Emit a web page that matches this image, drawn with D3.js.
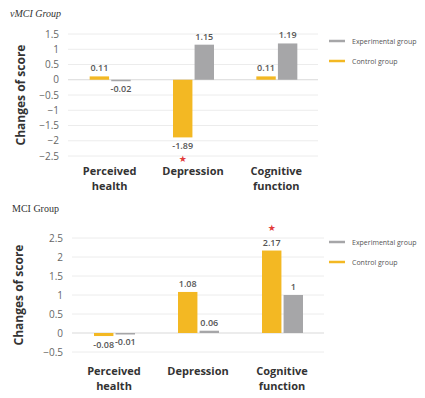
<!DOCTYPE html>
<html>
<head>
<meta charset="utf-8">
<script src="https://cdn.jsdelivr.net/npm/d3@7"></script>
<style>
  body { margin: 0; background: #fff; }
  text { font-family: "Open Sans", sans-serif; }
</style>
</head>
<body>
<svg id="chart" width="425" height="398"></svg>
<script>
// data
var categories = [["Perceived", "health"], ["Depression"], ["Cognitive", "function"]];
var seriesNames = ["Control group", "Experimental group"];
var vmciControl = [0.11, -1.89, 0.11];
var vmciExperimental = [-0.02, 1.15, 1.19];
var mciControl = [-0.08, 1.08, 2.17];
var mciExperimental = [-0.01, 0.06, 1];
var vmciTicks = [1.5, 1, 0.5, 0, -0.5, -1, -1.5, -2, -2.5];
var mciTicks = [2.5, 2, 1.5, 1, 0.5, 0, -0.5];

var colors = {"Control group": "#f3b823", "Experimental group": "#a6a6a8"};

var svg = d3.select("#chart");
svg.append("rect").attr("width", 425).attr("height", 398).attr("fill", "#fff");

function drawPanel(opt) {
  var g = svg.append("g");

  // title
  g.append("text")
    .attr("x", opt.titleX).attr("y", opt.titleY)
    .style("font-family", "'Liberation Serif', serif")
    .style("font-style", opt.italic ? "italic" : "normal")
    .style("font-size", "10px")
    .attr("fill", "#333")
    .text(opt.title);

  var y = d3.scaleLinear()
    .domain([opt.ticks[opt.ticks.length - 1], opt.ticks[0]])
    .range([opt.bottom, opt.top]);

  var x = d3.scaleBand()
    .domain(d3.range(categories.length))
    .range([opt.left, opt.right]);

  var xSub = d3.scaleBand()
    .domain(seriesNames)
    .range([x.bandwidth() / 2 - 20, x.bandwidth() / 2 + 21])
    .paddingInner(0.1);

  // grid lines
  g.append("g").selectAll("line")
    .data(opt.ticks)
    .enter().append("line")
      .attr("x1", opt.left).attr("x2", opt.right)
      .attr("y1", function(d) { return y(d); })
      .attr("y2", function(d) { return y(d); })
      .attr("stroke", function(d) { return d === 0 ? "#d9d9d9" : "#ececec"; })
      .attr("stroke-width", 1);

  // y axis labels
  var yAxis = d3.axisLeft(y).tickValues(opt.ticks).tickSize(0).tickPadding(0)
    .tickFormat(function(d) { return d3.format("")(d); });
  var ya = g.append("g")
    .attr("transform", "translate(" + (opt.left - 9) + ",0)")
    .call(yAxis);
  ya.select(".domain").remove();
  ya.selectAll("text")
    .style("font-family", "'Open Sans', sans-serif")
    .style("font-size", "10px")
    .attr("fill", "#666");

  // y axis title
  g.append("text")
    .attr("transform", "translate(" + opt.titleAxisX + "," + ((opt.top + opt.bottom) / 2) + ") rotate(-90)")
    .attr("text-anchor", "middle")
    .style("font-size", "12px")
    .style("font-weight", "bold")
    .attr("fill", "#333")
    .text("Changes of score");

  var rows = categories.map(function(c, i) {
    return [
      {key: "Control group", value: opt.control[i], star: opt.star === i},
      {key: "Experimental group", value: opt.experimental[i], star: false}
    ];
  });

  var groups = g.append("g").selectAll("g")
    .data(rows)
    .enter().append("g")
      .attr("transform", function(d, i) { return "translate(" + x(i) + ",0)"; });

  groups.selectAll("rect")
    .data(function(d) { return d; })
    .enter().append("rect")
      .attr("x", function(d) { return xSub(d.key); })
      .attr("y", function(d) { return y(Math.max(0, d.value)); })
      .attr("width", xSub.bandwidth())
      .attr("height", function(d) { return Math.max(1.5, Math.abs(y(d.value) - y(0))); })
      .attr("fill", function(d) { return colors[d.key]; });

  // value labels
  groups.selectAll("text.val")
    .data(function(d) { return d; })
    .enter().append("text")
      .attr("class", "val")
      .attr("x", function(d) { return xSub(d.key) + xSub.bandwidth() / 2; })
      .attr("y", function(d) { return d.value >= 0 ? y(d.value) - 5 : y(d.value) + 12; })
      .attr("text-anchor", "middle")
      .style("font-size", "9px")
      .style("font-weight", "600")
      .attr("fill", "#555")
      .text(function(d) { return d.value; });

  // significance stars
  groups.selectAll("text.star")
    .data(function(d) { return d.filter(function(e) { return e.star; }); })
    .enter().append("text")
      .attr("class", "star")
      .attr("x", function(d) { return xSub(d.key) + xSub.bandwidth() / 2; })
      .attr("y", function(d) { return d.value >= 0 ? y(d.value) - 20 : y(d.value) + 25; })
      .attr("text-anchor", "middle")
      .style("font-family", "'DejaVu Sans', sans-serif")
      .style("font-size", "9px")
      .attr("fill", "#e23b3b")
      .text("\u2605");

  // category labels
  groups.append("text")
    .attr("x", x.bandwidth() / 2)
    .attr("y", opt.labelY)
    .attr("text-anchor", "middle")
    .style("font-size", "11px")
    .style("font-weight", "bold")
    .attr("fill", "#333")
    .selectAll("tspan")
    .data(function(d, i) { return categories[i]; })
    .enter().append("tspan")
      .attr("x", x.bandwidth() / 2)
      .attr("dy", function(d, i) { return i === 0 ? 0 : 15; })
      .text(function(d) { return d; });

  // legend
  var legendOrder = ["Experimental group", "Control group"];
  var lg = g.append("g").selectAll("g")
    .data(legendOrder)
    .enter().append("g")
      .attr("transform", function(d, i) { return "translate(329," + (opt.legendY + i * 20) + ")"; });
  lg.append("line")
    .attr("x1", 0).attr("x2", 16)
    .attr("stroke", function(d) { return colors[d]; })
    .attr("stroke-width", 2.5);
  lg.append("text")
    .attr("x", 23).attr("y", 2.5)
    .style("font-size", "7px")
    .attr("fill", "#555")
    .text(function(d) { return d; });
}

drawPanel({
  title: "vMCI Group", italic: true, titleX: 10, titleY: 17,
  ticks: vmciTicks, top: 34, bottom: 156, left: 68, right: 318,
  control: vmciControl, experimental: vmciExperimental, star: 1,
  titleAxisX: 25, labelY: 175, legendY: 41
});

drawPanel({
  title: "MCI Group", italic: false, titleX: 12, titleY: 212,
  ticks: mciTicks, top: 238, bottom: 352, left: 72, right: 324,
  control: mciControl, experimental: mciExperimental, star: 2,
  titleAxisX: 23, labelY: 375, legendY: 242
});
</script>
</body>
</html>
